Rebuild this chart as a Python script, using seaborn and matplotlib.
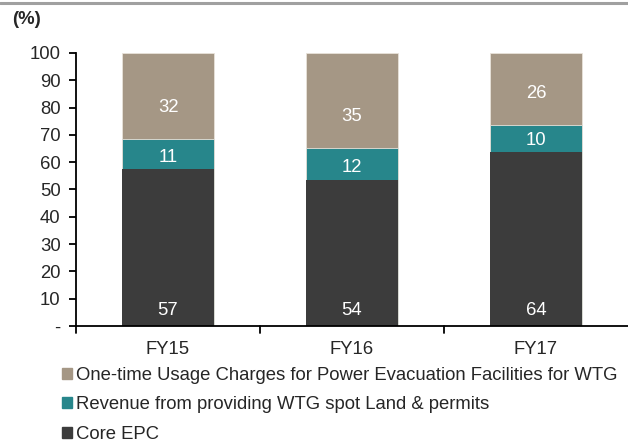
import matplotlib
matplotlib.use("Agg")
import matplotlib.pyplot as plt
import seaborn as sns
import numpy as np
from matplotlib.lines import Line2D
from matplotlib.patches import Patch

years = ["FY15", "FY16", "FY17"]
core_epc = [57.3, 53.6, 63.6]
spot_land = [11.2, 11.6, 10.1]
usage_charges = [31.5, 34.8, 26.3]

series_names = [
    "One-time Usage Charges for Power Evacuation Facilities for WTG",
    "Revenue from providing WTG spot Land & permits",
    "Core EPC",
]
colors = {"core": "#3c3c3c", "spot": "#27868b", "usage": "#a59785"}
FS = 13.3

sns.set_style("white")
plt.rcParams["font.family"] = ["Liberation Sans", "DejaVu Sans"]

fig = plt.figure(figsize=(6.28, 4.41), dpi=100)
ax = fig.add_axes([0.121, 0.261, 0.879, 0.619])

bottom2 = np.array(core_epc) + np.array(spot_land)
top = bottom2 + np.array(usage_charges)

# stacked bars drawn back to front
sns.barplot(x=years, y=top, color=colors["usage"], width=0.5, saturation=1,
            edgecolor="#e8e2da", linewidth=0.6, ax=ax)
sns.barplot(x=years, y=bottom2, color=colors["spot"], width=0.5, saturation=1,
            edgecolor="#e8e2da", linewidth=0.6, ax=ax)
sns.barplot(x=years, y=core_epc, color=colors["core"], width=0.5, saturation=1,
            linewidth=0, ax=ax)

for i in range(len(years)):
    ax.text(i, 5.5, f"{round(core_epc[i])}", ha="center", va="center",
            color="white", fontsize=FS)
    ax.text(i, core_epc[i] + 4.5, f"{round(spot_land[i])}", ha="center",
            va="center", color="white", fontsize=FS)
    ax.text(i, bottom2[i] + 11.5, f"{round(usage_charges[i])}", ha="center",
            va="center", color="white", fontsize=FS)

ax.set_xlim(-0.5, 2.5)
ax.set_ylim(0, 100)
ax.set_yticks(range(0, 101, 10))
ax.set_yticklabels(["-"] + [str(v) for v in range(10, 101, 10)], fontsize=FS)
ax.set_xticks([0, 1, 2])
ax.set_xticklabels(years, fontsize=FS)
ax.tick_params(axis="x", length=0, pad=11)
ax.tick_params(axis="y", left=True, length=5, width=1.3, color="black", pad=6)
for b in [-0.5, 0.5, 1.5]:
    ax.plot([b, b], [0, -0.025], transform=ax.get_xaxis_transform(),
            color="black", lw=1.3, clip_on=False)

for s in ["top", "right"]:
    ax.spines[s].set_visible(False)
for s in ["left", "bottom"]:
    ax.spines[s].set_color("black")
    ax.spines[s].set_linewidth(1.3)
ax.set_xlabel("")
ax.set_ylabel("")

fig.text(12 / 628, 1 - 20 / 441, "(%)", fontsize=FS, fontweight="bold",
         va="center", ha="left")

fig.add_artist(Line2D([0, 1], [1 - 3 / 441, 1 - 3 / 441], color="#a0a0a0", lw=2.2))

handles = [Patch(color=colors["usage"]), Patch(color=colors["spot"]),
           Patch(color=colors["core"])]
fig.legend(handles, series_names, loc="upper left",
           bbox_to_anchor=(53 / 628, 1 - 358 / 441), frameon=False,
           fontsize=FS, handlelength=0.55, handleheight=0.55,
           handletextpad=0.2, labelspacing=0.66, borderpad=0)

fig.savefig("out.png", dpi=100)
